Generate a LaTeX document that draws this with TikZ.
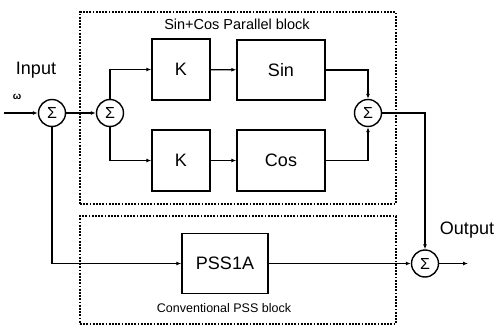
\documentclass[tikz,border=0pt]{standalone}
\usepackage{fontspec}
\setmainfont{Liberation Sans}
\usetikzlibrary{arrows.meta}

\tikzset{
  sumnode/.style={circle, draw, line width=1.4pt, minimum size=27pt, inner sep=0pt, font=\fontsize{16}{18}\selectfont},
  blk/.style={draw, line width=1.4pt, rectangle, inner sep=0pt},
  dotbox/.style={draw, line width=2pt, dash pattern=on 1.8pt off 1.4pt, rectangle, inner sep=0pt},
}

\begin{document}
\begin{tikzpicture}[x=1pt, y=-1pt, every node/.style={font=\fontsize{18}{20}\selectfont}, >={Latex[length=5pt,width=4pt]}]
    \useasboundingbox (0,0) rectangle (498,329);
    % dotted frames
    \node[dotbox, minimum width=316pt, minimum height=192pt] (parbox) at (238,108) {};
    \node[dotbox, minimum width=316pt, minimum height=108pt] (pssbox) at (238,270) {};
    \node[font=\fontsize{14.5}{16}\selectfont] (partitle) at (237,24) {Sin+Cos Parallel block};
    \node[font=\fontsize{12.5}{14}\selectfont] (psstitle) at (224,308) {Conventional PSS block};
    % summing points
    \node[sumnode] (s1) at (52,113) {Σ};
    \node[sumnode] (s2) at (110,113) {Σ};
    \node[sumnode] (s3) at (368,113) {Σ};
    \node[sumnode] (s4) at (425,263.5) {Σ};
    % blocks
    \node[blk, minimum width=58pt, minimum height=61pt] (k1) at (181,69.5) {K};
    \node[blk, minimum width=88pt, minimum height=60pt] (sin) at (281,70) {Sin};
    \node[blk, minimum width=58pt, minimum height=61pt] (k2) at (181,160.5) {K};
    \node[blk, minimum width=88pt, minimum height=61pt] (cos) at (281,160.5) {Cos};
    \node[blk, minimum width=86pt, minimum height=60pt] (pss) at (225,263.5) {PSS1A};
    % labels
    \node (inlabel) at (36,70) {Input};
    \node[font=\fontsize{10}{12}\selectfont\bfseries] (wlabel) at (17,97) {ω};
    \node (outlabel) at (467,230) {Output};
    \coordinate (inpt) at (4,113);
    \coordinate (outpt) at (468,263.5);
    % connections
    \begin{scope}[line width=1.3pt]
    \draw[->] (inpt) -- (s1);
    \draw[->] (s1) -- (s2);
    \draw[->] (s2) |- (k1);
    \draw[->] (s2) |- (k2);
    \draw[->] (k1) -- (sin);
    \draw[->] (k2) -- (cos);
    \draw[->] (sin) -| (s3);
    \draw[->] (cos) -| (s3);
    \draw[->] (s3) -| (s4);
    \draw[->] (s1) |- (pss);
    \draw[->] (pss) -- (s4);
    \draw[->] (s4) -- (outpt);
    \end{scope}
\end{tikzpicture}
\end{document}
